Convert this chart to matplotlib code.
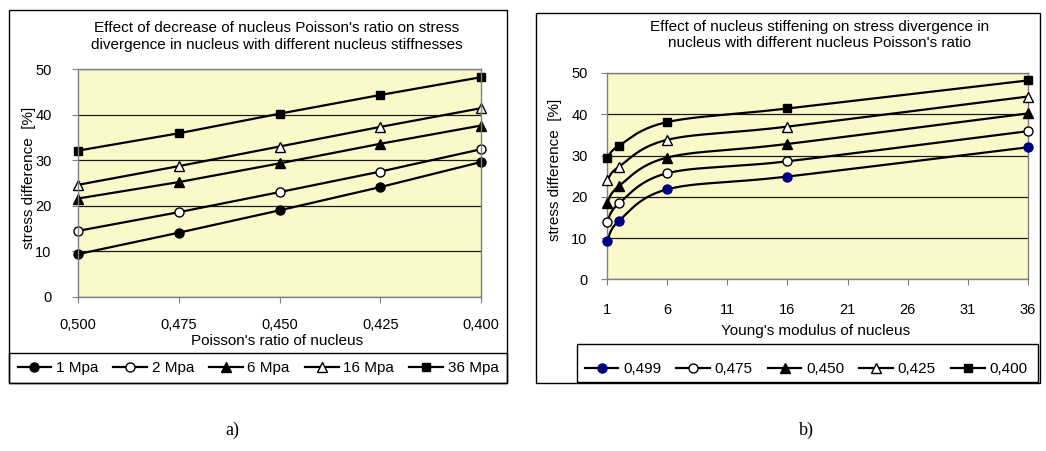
import numpy as np
import matplotlib
matplotlib.use("Agg")
import matplotlib.pyplot as plt
from matplotlib import font_manager
from matplotlib.lines import Line2D
from matplotlib.patches import Rectangle

# ---- data ----
poisson_x = [0.500, 0.475, 0.450, 0.425, 0.400]
poisson_ticks = ["0,500", "0,475", "0,450", "0,425", "0,400"]
stiff_labels = ["1 Mpa", "2 Mpa", "6 Mpa", "16 Mpa", "36 Mpa"]
a_1mpa = [9.4, 14.1, 19.0, 24.1, 29.6]
a_2mpa = [14.5, 18.6, 23.0, 27.5, 32.4]
a_6mpa = [21.6, 25.2, 29.3, 33.6, 37.6]
a_16mpa = [24.6, 28.7, 33.0, 37.3, 41.4]
a_36mpa = [32.1, 35.9, 40.2, 44.3, 48.2]

young_x = [1, 2, 6, 16, 36]
young_ticks = [1, 6, 11, 16, 21, 26, 31, 36]
ratio_labels = ["0,499", "0,475", "0,450", "0,425", "0,400"]
b_0499 = [9.2, 14.2, 21.8, 24.9, 32.0]
b_0475 = [13.9, 18.4, 25.7, 28.6, 35.9]
b_0450 = [18.5, 22.6, 29.5, 32.8, 40.2]
b_0425 = [24.0, 27.3, 33.8, 37.0, 44.3]
b_0400 = [29.3, 32.4, 38.1, 41.4, 48.2]

names = {f.name for f in font_manager.fontManager.ttflist}
sans = "Liberation Sans Narrow" if "Liberation Sans Narrow" in names else "Liberation Sans"
plt.rcParams["font.family"] = [sans, "DejaVu Sans"]

W, H = 1046, 451
fig = plt.figure(figsize=(W / 100, H / 100), dpi=100)


def fx(px):
    return px / W


def fy(py):
    return 1 - py / H


def frame(x0, y0, x1, y1, z=0):
    fig.patches.append(Rectangle((fx(x0), fy(y1)), fx(x1 - x0), (y1 - y0) / H,
                                 transform=fig.transFigure, fill=False,
                                 edgecolor="black", lw=1, zorder=z))


def smooth(x, y, n=40):
    # Excel-like smoothed line (bezier through the points)
    p = np.column_stack([x, y]).astype(float)
    out = []
    for i in range(len(p) - 1):
        p0, p1, p2 = p[max(i - 1, 0)], p[i], p[i + 1]
        p3 = p[min(i + 2, len(p) - 1)]
        c1 = p1 + (p2 - p0) / 6
        c2 = p2 - (p3 - p1) / 6
        t = np.linspace(0, 1, n)[:, None]
        out.append((1 - t) ** 3 * p1 + 3 * (1 - t) ** 2 * t * c1
                   + 3 * (1 - t) * t ** 2 * c2 + t ** 3 * p2)
    return np.vstack(out)


styles = [
    dict(marker="o", mfc="black", mec="black", ms=6.5),
    dict(marker="o", mfc="white", mec="black", ms=6.5),
    dict(marker="^", mfc="black", mec="black", ms=7.5),
    dict(marker="^", mfc="white", mec="black", ms=7.5),
    dict(marker="s", mfc="black", mec="black", ms=6),
]


def style_axes(ax):
    ax.set_facecolor("#FBF9C9")
    for s in ax.spines.values():
        s.set_color("#808080")
        s.set_linewidth(1)
    ax.set_ylim(0, 50)
    ax.set_yticks([0, 10, 20, 30, 40, 50])
    ax.yaxis.grid(True, color="#1a1a1a", lw=0.9)
    ax.set_axisbelow(True)
    ax.tick_params(direction="out", length=4, color="#808080", labelsize=10.5)


# ---- panel a ----
frame(9, 10, 507, 383)
frame(9, 353, 507, 383)
ax1 = fig.add_axes([fx(78), fy(297), fx(403), (297 - 69) / H])
style_axes(ax1)
for vals, st, lab in zip([a_1mpa, a_2mpa, a_6mpa, a_16mpa, a_36mpa], styles, stiff_labels):
    ax1.plot(poisson_x, vals, color="black", lw=1.6, mew=1, label=lab, clip_on=False, **st)
ax1.set_xlim(0.500, 0.400)
ax1.set_xticks(poisson_x)
ax1.set_xticklabels(poisson_ticks)
ax1.tick_params(axis="y", pad=15)
ax1.tick_params(axis="x", pad=11)
fig.text(fx(277), fy(36.5), "Effect of decrease of nucleus Poisson's ratio on stress\n"
         "divergence in nucleus with different nucleus stiffnesses",
         ha="center", va="center", fontsize=11, linespacing=1.3)
fig.text(fx(29), fy(178), "stress difference  [%]", rotation=90,
         ha="center", va="center", fontsize=11)
fig.text(fx(277), fy(341), "Poisson's ratio of nucleus", ha="center", va="center", fontsize=11)
h1, l1 = ax1.get_legend_handles_labels()
fig.legend(h1, l1, loc="center", bbox_to_anchor=(fx(258), fy(368)), ncol=5,
           frameon=False, fontsize=11, handlelength=2.2, handletextpad=0.3,
           columnspacing=1.0, numpoints=1)

# ---- panel b ----
frame(536, 13, 1040, 383)
frame(577, 344, 1038, 382)
ax2 = fig.add_axes([fx(607), fy(279.3), fx(421), (279.3 - 73) / H])
style_axes(ax2)
hb = []
b_series = [b_0499, b_0475, b_0450, b_0425, b_0400]
b_styles = [dict(styles[0], mfc="#000080", mec="#000080")] + styles[1:]
for vals, st, lab in zip(b_series, b_styles, ratio_labels):
    c = smooth(young_x, vals)
    ax2.plot(c[:, 0], c[:, 1], color="black", lw=1.6, clip_on=False)
    ax2.plot(young_x, vals, linestyle="none", mew=1, clip_on=False, zorder=3, **st)
    hb.append(Line2D([], [], color="black", lw=1.6, mew=1, **st))
ax2.set_xlim(1, 36)
ax2.set_xticks(young_ticks)
ax2.tick_params(axis="y", pad=10)
ax2.tick_params(axis="x", pad=13)
fig.text(fx(820), fy(35), "Effect of nucleus stiffening on stress divergence in\n"
         "nucleus with different nucleus Poisson's ratio",
         ha="center", va="center", fontsize=11, linespacing=1.2)
fig.text(fx(555), fy(170), "stress difference  [%]", rotation=90,
         ha="center", va="center", fontsize=11)
fig.text(fx(816), fy(331), "Young's modulus of nucleus", ha="center", va="center", fontsize=11)
fig.legend(hb, ratio_labels, loc="center", bbox_to_anchor=(fx(806), fy(369)), ncol=5,
           frameon=False, fontsize=11, handlelength=2.2, handletextpad=0.3,
           columnspacing=1.0, numpoints=1)

# sub-figure captions
fig.text(fx(232), fy(430), "a)", ha="center", va="center", fontsize=13,
         family=["Liberation Serif", "DejaVu Serif"])
fig.text(fx(806), fy(430), "b)", ha="center", va="center", fontsize=13,
         family=["Liberation Serif", "DejaVu Serif"])

fig.savefig("out.png", dpi=100)
